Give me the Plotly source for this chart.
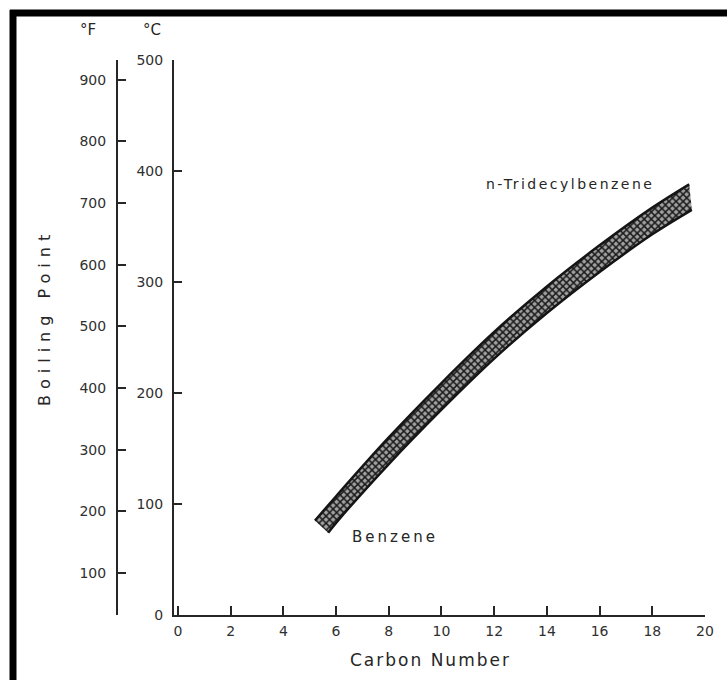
import plotly.graph_objects as go

# ---- data ----
x_ticks = [0, 2, 4, 6, 8, 10, 12, 14, 16, 18, 20]
c_ticks = [0, 100, 200, 300, 400, 500]
f_ticks = [100, 200, 300, 400, 500, 600, 700, 800, 900]

upper_carbon = [5.2, 6, 8, 10, 12, 14, 16, 18, 19.4]
upper_bp_c = [85, 107, 160, 209, 255, 296, 333, 367, 388]
lower_carbon = [5.7, 6, 8, 10, 12, 14, 16, 18, 19.5]
lower_bp_c = [74, 83, 136, 185, 231, 272, 309, 343, 365]

label_low = "Benzene"
label_high = "n-Tridecylbenzene"

# ---- layout constants ----
W, H = 727, 680
ML, MR, MT, MB = 90, 22, 60, 65
PW = W - ML - MR
PH = H - MT - MB
FONT = "DejaVu Sans"
INK = "#262626"

def px_x(px):
    return (px - ML) / PW

def px_y(py):
    return (H - MB - py) / PH

def spaced(t, sp):
    return f'<span style="letter-spacing:{sp}px">{t}</span>'

c_range = [0, 500]
f_range = [32 + 1.8 * c_range[0], 32 + 1.8 * c_range[1]]

fig = go.Figure()

fig.add_trace(go.Scatter(
    x=lower_carbon, y=lower_bp_c, mode="lines",
    line=dict(color="#151515", width=2.5, shape="spline"),
    hoverinfo="skip", showlegend=False,
))
fig.add_trace(go.Scatter(
    x=upper_carbon, y=upper_bp_c, mode="lines", fill="tonexty",
    fillcolor="#707070",
    fillpattern=dict(shape="x", fgcolor="#1a1a1a", bgcolor="#a0a0a0",
                     size=5, solidity=0.5, fillmode="replace"),
    line=dict(color="#151515", width=2.5, shape="spline"),
    hoverinfo="skip", showlegend=False,
))

# invisible trace to activate the °F axis
fig.add_trace(go.Scatter(x=[None], y=[None], yaxis="y2", showlegend=False))

x_dom0 = px_x(174)
tickfont = dict(size=14, color="#303030")
fig.update_layout(
    width=W, height=H,
    margin=dict(l=ML, r=MR, t=MT, b=MB),
    paper_bgcolor="white", plot_bgcolor="white",
    font=dict(family=FONT, color=INK, size=14),
    xaxis=dict(
        domain=[x_dom0, 1], range=[-0.15, 20],
        tickvals=x_ticks, ticks="inside", ticklen=9, tickwidth=1.6,
        tickcolor=INK, showline=True, linecolor=INK, linewidth=2,
        showgrid=False, zeroline=False, tickfont=tickfont,
        ticklabelstandoff=2,
    ),
    yaxis=dict(
        range=c_range, tickvals=c_ticks, ticks="inside", ticklen=8,
        tickwidth=1.6, tickcolor=INK, showline=True, linecolor=INK,
        linewidth=2, showgrid=False, zeroline=False,
        tickfont=tickfont, ticklabelstandoff=6,
    ),
    yaxis2=dict(
        range=f_range, tickvals=f_ticks, overlaying="y", anchor="free",
        position=px_x(117), side="left", ticks="inside", ticklen=8,
        tickwidth=1.6, tickcolor=INK, showline=True, linecolor=INK,
        linewidth=2, showgrid=False, zeroline=False,
        tickfont=tickfont, ticklabelstandoff=7,
    ),
    showlegend=False,
)

ann = [
    dict(text="°F", x=px_x(88), y=px_y(30), font=dict(size=15)),
    dict(text="°C", x=px_x(152), y=px_y(30), font=dict(size=15)),
    dict(text=spaced("Boiling Point", 6), x=px_x(44), y=px_y(318),
         textangle=-90, font=dict(size=16)),
    dict(text=spaced("Carbon Number", 2), x=px_x(430), y=px_y(660),
         font=dict(size=17)),
]
for a in ann:
    a.update(xref="paper", yref="paper", showarrow=False,
             xanchor="center", yanchor="middle")
    fig.add_annotation(**a)

fig.add_annotation(text=spaced(label_high, 2.5), x=upper_carbon[-1],
                   y=upper_bp_c[-1], xref="x", yref="y", xanchor="right",
                   yanchor="middle", yshift=0, xshift=-33, showarrow=False,
                   font=dict(size=14))
fig.add_annotation(text=spaced(label_low, 3), x=lower_carbon[0],
                   y=lower_bp_c[0], xref="x", yref="y", xanchor="left",
                   yanchor="middle", xshift=22, yshift=-4, showarrow=False,
                   font=dict(size=15))

# scanned page frame (top and left black borders)
fig.add_shape(type="line", xref="paper", yref="paper",
              x0=px_x(10), x1=px_x(727), y0=px_y(13), y1=px_y(13),
              line=dict(color="black", width=7))
fig.add_shape(type="line", xref="paper", yref="paper",
              x0=px_x(13), x1=px_x(13), y0=px_y(10), y1=px_y(680),
              line=dict(color="black", width=7))

fig.write_html("out.html")
